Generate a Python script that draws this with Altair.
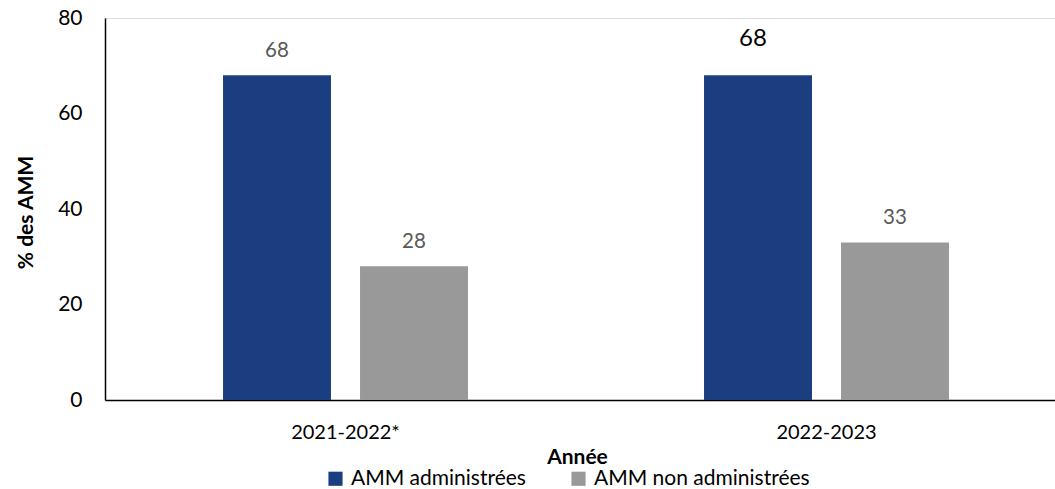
import altair as alt
import pandas as pd

years = ["2021-2022*", "2022-2023"]
series = ["AMM administrées", "AMM non administrées"]
values_admin = [68, 68]
values_non = [28, 33]

rows = []
for i, yr in enumerate(years):
    rows.append({"Année": yr, "Série": series[0], "Valeur": values_admin[i]})
    rows.append({"Année": yr, "Série": series[1], "Valeur": values_non[i]})
df = pd.DataFrame(rows)

FONT = "Lato"
BLUE = "#1b3e80"
GREY = "#999999"

x = alt.X(
    "Année:N",
    sort=years,
    scale=alt.Scale(paddingInner=0, paddingOuter=0, range=[0, 962]),
    axis=alt.Axis(
        title="Année",
        labelAngle=0,
        ticks=False,
        labelPadding=22,
        labelFont=FONT,
        labelFontSize=20,
        labelColor="#000000",
        domainColor="#000000",
        domainWidth=1.5,
        titleFont=FONT,
        titleFontSize=21,
        titleFontWeight="bold",
        titleColor="#000000",
        titleX=472,
        titleY=63,
        titleBaseline="alphabetic",
        titleAlign="center",
    ),
)
xoff = alt.XOffset(
    "Série:N",
    sort=series,
    scale=alt.Scale(paddingInner=0.212, paddingOuter=0.8615),
)
y = alt.Y(
    "Valeur:Q",
    scale=alt.Scale(domain=[0, 80], nice=False),
    axis=alt.Axis(
        values=[0, 20, 40, 60, 80],
        title="% des AMM",
        grid=False,
        ticks=False,
        labelPadding=23,
        labelFont=FONT,
        labelFontSize=21,
        labelColor="#000000",
        domainColor="#000000",
        domainWidth=1.5,
        titleFont=FONT,
        titleFontSize=21,
        titleFontWeight="bold",
        titleColor="#000000",
        titleX=-73,
        titleY=194,
        titleBaseline="alphabetic",
        titleAlign="center",
    ),
)
color = alt.Color(
    "Série:N",
    sort=series,
    scale=alt.Scale(domain=series, range=[BLUE, GREY]),
    legend=alt.Legend(
        orient="none",
        legendX=220,
        legendY=450,
        direction="horizontal",
        title=None,
        symbolType="square",
        symbolSize=200,
        symbolStrokeWidth=0,
        symbolOpacity=1,
        labelFont=FONT,
        labelFontSize=21,
        labelColor="#000000",
        labelOffset=5,
        labelLimit=400,
        columnPadding=42,
    ),
)

base = alt.Chart(df)

bars = base.mark_bar().encode(x=x, xOffset=xoff, y=y, color=color)

emph = "datum['Année'] == '2022-2023' && datum['Série'] == 'AMM administrées'"

labels = base.transform_filter(f"!({emph})").mark_text(
    font=FONT, fontSize=20.5, color="#595959", baseline="alphabetic", dy=-18
).encode(x=x, xOffset=xoff, y=y, text=alt.Text("Valeur:Q"))

labels_emph = base.transform_filter(emph).mark_text(
    font=FONT, fontSize=24, color="#000000", baseline="alphabetic", dx=-5, dy=-29
).encode(x=x, xOffset=xoff, y=y, text=alt.Text("Valeur:Q"))

chart = (
    alt.layer(bars, labels, labels_emph)
    .properties(
        width=950,
        height=382,
        autosize=alt.AutoSizeParams(type="none"),
        padding={"left": 105, "top": 18, "right": 0, "bottom": 89},
    )
    .configure_view(stroke=None)
    .configure(background="white")
)

chart.save("out.html", embed_options={"renderer": "svg", "actions": False})
